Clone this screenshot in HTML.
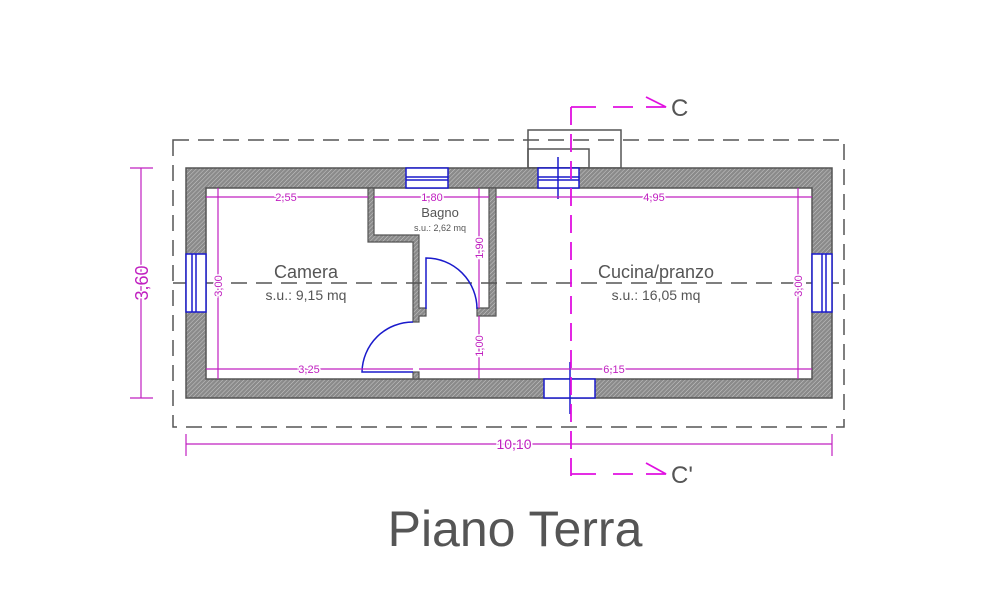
<!DOCTYPE html>
<html><head><meta charset="utf-8"><style>
html,body{margin:0;padding:0;background:#fff;}
svg{display:block;font-family:"Liberation Sans",sans-serif;}
</style></head><body>
<svg width="1006" height="605" viewBox="0 0 1006 605" xmlns="http://www.w3.org/2000/svg">
<defs>
<pattern id="h" width="3" height="3" patternUnits="userSpaceOnUse" patternTransform="rotate(45)">
<rect width="3" height="3" fill="#8a8a8a"/><line x1="0" y1="0" x2="0" y2="3" stroke="#c8c8c8" stroke-width="1"/>
</pattern>
</defs>
<rect x="173" y="140" width="671" height="287" fill="none" stroke="#555" stroke-width="1.5" stroke-dasharray="16,9"/>
<line x1="173" y1="283" x2="844" y2="283" stroke="#555" stroke-width="1.5" stroke-dasharray="16,9"/>
<rect x="528" y="130" width="93" height="38" fill="none" stroke="#555" stroke-width="1.5"/>
<rect x="528" y="149" width="61" height="19" fill="none" stroke="#555" stroke-width="1.5"/>
<rect x="186" y="168" width="646" height="230" fill="url(#h)" stroke="#555" stroke-width="1.5"/>
<rect x="206" y="188" width="606" height="191" fill="#fff" stroke="#555" stroke-width="1.5"/>
<g fill="url(#h)" stroke="#555" stroke-width="1.2">
<path d="M368 188 L374 188 L374 235 L419 235 L419 308 L426 308 L426 316 L419 316 L419 322 L413 322 L413 242 L368 242 Z"/>
<path d="M489 188 L496 188 L496 316 L477 316 L477 308 L489 308 Z"/>
<rect x="413" y="372" width="6" height="7"/>
</g>
<line x1="206" y1="283" x2="812" y2="283" stroke="#555" stroke-width="1.5" stroke-dasharray="16,9"/>
<g fill="#fff" stroke="#1a1acc" stroke-width="1.5">
<rect x="406" y="168" width="42" height="20"/>
<line x1="406" y1="177" x2="448" y2="177"/><line x1="406" y1="180" x2="448" y2="180"/>
<rect x="538" y="168" width="41" height="20"/>
<line x1="538" y1="177" x2="579" y2="177"/><line x1="538" y1="180" x2="579" y2="180"/>
<line x1="558" y1="157" x2="558" y2="199"/>
<rect x="544" y="379" width="51" height="19"/>
<line x1="570" y1="362" x2="570" y2="414"/>
<rect x="186" y="254" width="20" height="58"/>
<line x1="192" y1="254" x2="192" y2="312"/><line x1="196" y1="254" x2="196" y2="312"/>
<rect x="812" y="254" width="20" height="58"/>
<line x1="822" y1="254" x2="822" y2="312"/><line x1="826" y1="254" x2="826" y2="312"/>
</g>
<g fill="none" stroke="#1a1acc" stroke-width="1.5">
<path d="M426 309 L426 258 A51 51 0 0 1 477 309"/>
<path d="M413 372 L362 372 A51 51 0 0 1 413 322"/>
</g>
<g stroke="#c020c0" stroke-width="1.2" fill="none">
<line x1="206" y1="197" x2="368" y2="197"/>
<line x1="374" y1="197" x2="489" y2="197"/>
<line x1="496" y1="197" x2="812" y2="197"/>
<line x1="206" y1="369" x2="413" y2="369"/>
<line x1="419" y1="369" x2="812" y2="369"/>
<line x1="218" y1="188" x2="218" y2="379"/>
<line x1="479" y1="188" x2="479" y2="308"/>
<line x1="479" y1="316" x2="479" y2="379"/>
<line x1="798" y1="188" x2="798" y2="379"/>
<line x1="141" y1="168" x2="141" y2="398"/>
<line x1="130" y1="168" x2="153" y2="168"/><line x1="130" y1="398" x2="153" y2="398"/>
<line x1="186" y1="444" x2="832" y2="444"/>
<line x1="186" y1="434" x2="186" y2="456"/><line x1="832" y1="434" x2="832" y2="456"/>
</g>
<g fill="#c020c0" font-size="11" text-anchor="middle">
<text x="286" y="201" stroke="#fff" stroke-width="3" paint-order="stroke">2,55</text>
<text x="432" y="201" stroke="#fff" stroke-width="3" paint-order="stroke">1,80</text>
<text x="654" y="201" stroke="#fff" stroke-width="3" paint-order="stroke">4,95</text>
<text x="309" y="373" stroke="#fff" stroke-width="3" paint-order="stroke">3,25</text>
<text x="614" y="373" stroke="#fff" stroke-width="3" paint-order="stroke">6,15</text>
<text x="514" y="449" font-size="14" stroke="#fff" stroke-width="3" paint-order="stroke">10,10</text>
<text transform="translate(222,286) rotate(-90)" stroke="#fff" stroke-width="3" paint-order="stroke">3,00</text>
<text transform="translate(802,286) rotate(-90)" stroke="#fff" stroke-width="3" paint-order="stroke">3,00</text>
<text transform="translate(483,248) rotate(-90)" stroke="#fff" stroke-width="3" paint-order="stroke">1,90</text>
<text transform="translate(483,346) rotate(-90)" stroke="#fff" stroke-width="3" paint-order="stroke">1,00</text>
<text transform="translate(148,283) rotate(-90)" font-size="18" stroke="#fff" stroke-width="3" paint-order="stroke">3,60</text>
</g>
<g stroke="#e010e0" stroke-width="1.8" fill="none">
<line x1="571" y1="107" x2="571" y2="480" stroke-dasharray="18,9"/>
<polyline points="571,107 596,107"/>
<line x1="613" y1="107" x2="633" y2="107"/>
<polyline points="646,97 666,107 646,107"/>
<polyline points="571,474 596,474"/>
<line x1="613" y1="474" x2="633" y2="474"/>
<polyline points="646,463 666,474 646,474"/>
</g>
<g fill="#555">
<text x="671" y="116" font-size="24">C</text>
<text x="671" y="483" font-size="24">C'</text>
<text x="306" y="278" font-size="18" text-anchor="middle">Camera</text>
<text x="306" y="300" font-size="14" text-anchor="middle">s.u.: 9,15 mq</text>
<text x="440" y="217" font-size="13" text-anchor="middle">Bagno</text>
<text x="440" y="231" font-size="9" text-anchor="middle">s.u.: 2,62 mq</text>
<text x="656" y="278" font-size="18" text-anchor="middle">Cucina/pranzo</text>
<text x="656" y="300" font-size="14" text-anchor="middle">s.u.: 16,05 mq</text>
<text x="515" y="546" font-size="50" text-anchor="middle">Piano Terra</text>
</g>
</svg>
</body></html>
